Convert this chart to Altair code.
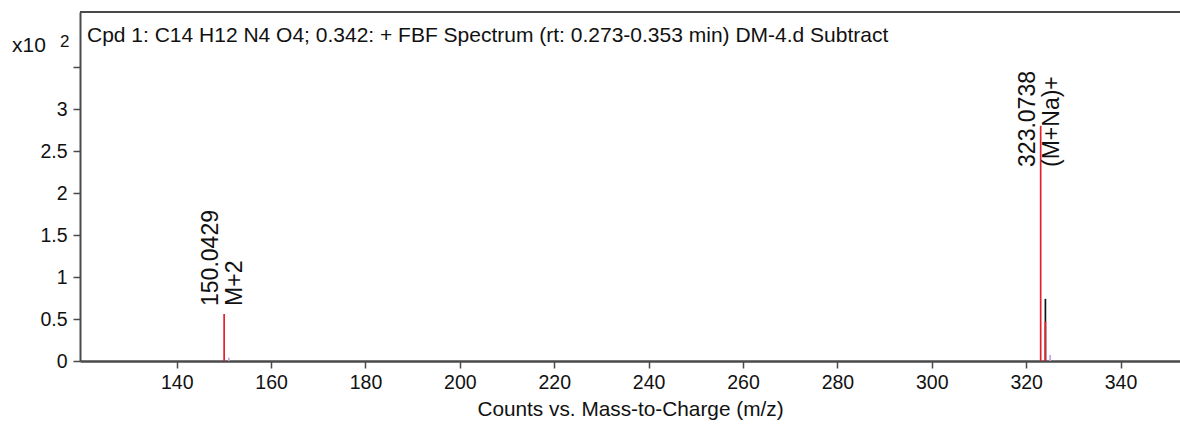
import altair as alt
import pandas as pd

# Spectrum peaks: m/z, abundance (x10^2 counts), trace
peak_mz = [150.0429, 151.04, 323.0738, 324.08, 324.08, 325.08]
peak_counts = [0.56, 0.04, 2.80, 0.74, 0.47, 0.07]
peak_trace = ["isotope", "minor", "main", "theory", "main", "minor"]

# Annotated peaks
label_mz = [150.0429, 323.0738]
label_counts = [0.56, 2.80]
label_mass = ["150.0429", "323.0738"]
label_ion = ["M+2", "(M+Na)+"]

x_ticks = [140, 160, 180, 200, 220, 240, 260, 280, 300, 320, 340]
y_ticks = [0, 0.5, 1, 1.5, 2, 2.5, 3, 3.5]

X_MIN, X_MAX = 119.5, 352.6
Y_MAX = 4.155
LABEL_ROOM = 1.94  # vertical room the rotated labels need, in axis units

W, H = 1100, 349
FONT = "Liberation Sans"
AXIS_COLOR = "#4a4a4a"
TEXT_COLOR = "#111111"

peaks = pd.DataFrame({"mz": peak_mz, "counts": peak_counts, "trace": peak_trace})
peaks["order"] = peaks["trace"].map({"theory": 0, "minor": 1, "isotope": 2, "main": 2})
peaks = peaks.sort_values("order")

labels = pd.DataFrame({
    "mz": label_mz,
    "counts": label_counts,
    "mass": label_mass,
    "ion": label_ion,
})
labels["base"] = labels["counts"].clip(upper=Y_MAX - LABEL_ROOM)

single = pd.DataFrame({"k": [0]})

x_scale = alt.Scale(domain=[X_MIN, X_MAX], nice=False, zero=False)
y_scale = alt.Scale(domain=[0, Y_MAX], nice=False)

color_scale = alt.Scale(
    domain=["main", "isotope", "theory", "minor"],
    range=["#e3202b", "#e3202b", "#111111", "#c6a4e6"],
)

sticks = alt.Chart(peaks).mark_rule(strokeWidth=1.7).encode(
    x=alt.X(
        "mz:Q",
        scale=x_scale,
        title="Counts vs. Mass-to-Charge (m/z)",
        axis=alt.Axis(
            values=x_ticks,
            format="d",
            grid=False,
            tickSize=7,
            tickWidth=1.5,
            tickColor=AXIS_COLOR,
            domainColor=AXIS_COLOR,
            domainWidth=2.5,
            labelFont=FONT,
            labelFontSize=19.5,
            labelColor=TEXT_COLOR,
            labelPadding=5,
            titleFont=FONT,
            titleFontSize=20.8,
            titleFontWeight="normal",
            titleColor=TEXT_COLOR,
            titlePadding=8,
        ),
    ),
    y=alt.Y(
        "counts:Q",
        scale=y_scale,
        title=None,
        axis=alt.Axis(
            values=y_ticks,
            labelExpr="datum.value > 3.2 ? '' : '' + datum.value",
            grid=False,
            tickSize=7,
            tickWidth=1.5,
            tickColor=AXIS_COLOR,
            domainColor=AXIS_COLOR,
            domainWidth=2,
            labelFont=FONT,
            labelFontSize=19.5,
            labelColor=TEXT_COLOR,
            labelPadding=6,
        ),
    ),
    y2=alt.datum(0),
    color=alt.Color("trace:N", scale=color_scale, legend=None),
    order=alt.Order("order:Q"),
)

mass_text = alt.Chart(labels).mark_text(
    angle=270, align="left", baseline="middle", dx=8, dy=-13,
    font=FONT, fontSize=23, color=TEXT_COLOR,
).encode(
    x=alt.X("mz:Q", scale=x_scale),
    y=alt.Y("base:Q", scale=y_scale),
    text="mass:N",
)

ion_text = alt.Chart(labels).mark_text(
    angle=270, align="left", baseline="middle", dx=8, dy=11,
    font=FONT, fontSize=23, color=TEXT_COLOR,
).encode(
    x=alt.X("mz:Q", scale=x_scale),
    y=alt.Y("base:Q", scale=y_scale),
    text="ion:N",
)

# frame top edge
top_edge = alt.Chart(single).mark_rule(color=AXIS_COLOR, strokeWidth=2).encode(
    x=alt.value(0), x2=alt.value(W), y=alt.value(0)
)

header = alt.Chart(single).mark_text(
    align="left", baseline="middle", font=FONT, fontSize=21, color=TEXT_COLOR
).encode(
    x=alt.value(7), y=alt.value(24),
    text=alt.value("Cpd 1: C14 H12 N4 O4; 0.342: + FBF Spectrum (rt: 0.273-0.353 min) DM-4.d  Subtract"),
)

scale_note = alt.Chart(single).mark_text(
    align="left", baseline="middle", font=FONT, fontSize=21, color=TEXT_COLOR
).encode(x=alt.value(-68), y=alt.value(34), text=alt.value("x10"))

scale_exp = alt.Chart(single).mark_text(
    align="left", baseline="middle", font=FONT, fontSize=17, color=TEXT_COLOR
).encode(x=alt.value(-20), y=alt.value(30), text=alt.value("2"))

chart = alt.layer(
    sticks, mass_text, ion_text, top_edge, header, scale_note, scale_exp
).properties(
    width=W,
    height=H,
    autosize=alt.AutoSizeParams(type="none"),
    padding={"left": 80, "top": 12, "right": 0, "bottom": 75},
    background="white",
).configure_view(stroke=None)

chart.save("out.html", embed_options={"renderer": "svg", "actions": False})
